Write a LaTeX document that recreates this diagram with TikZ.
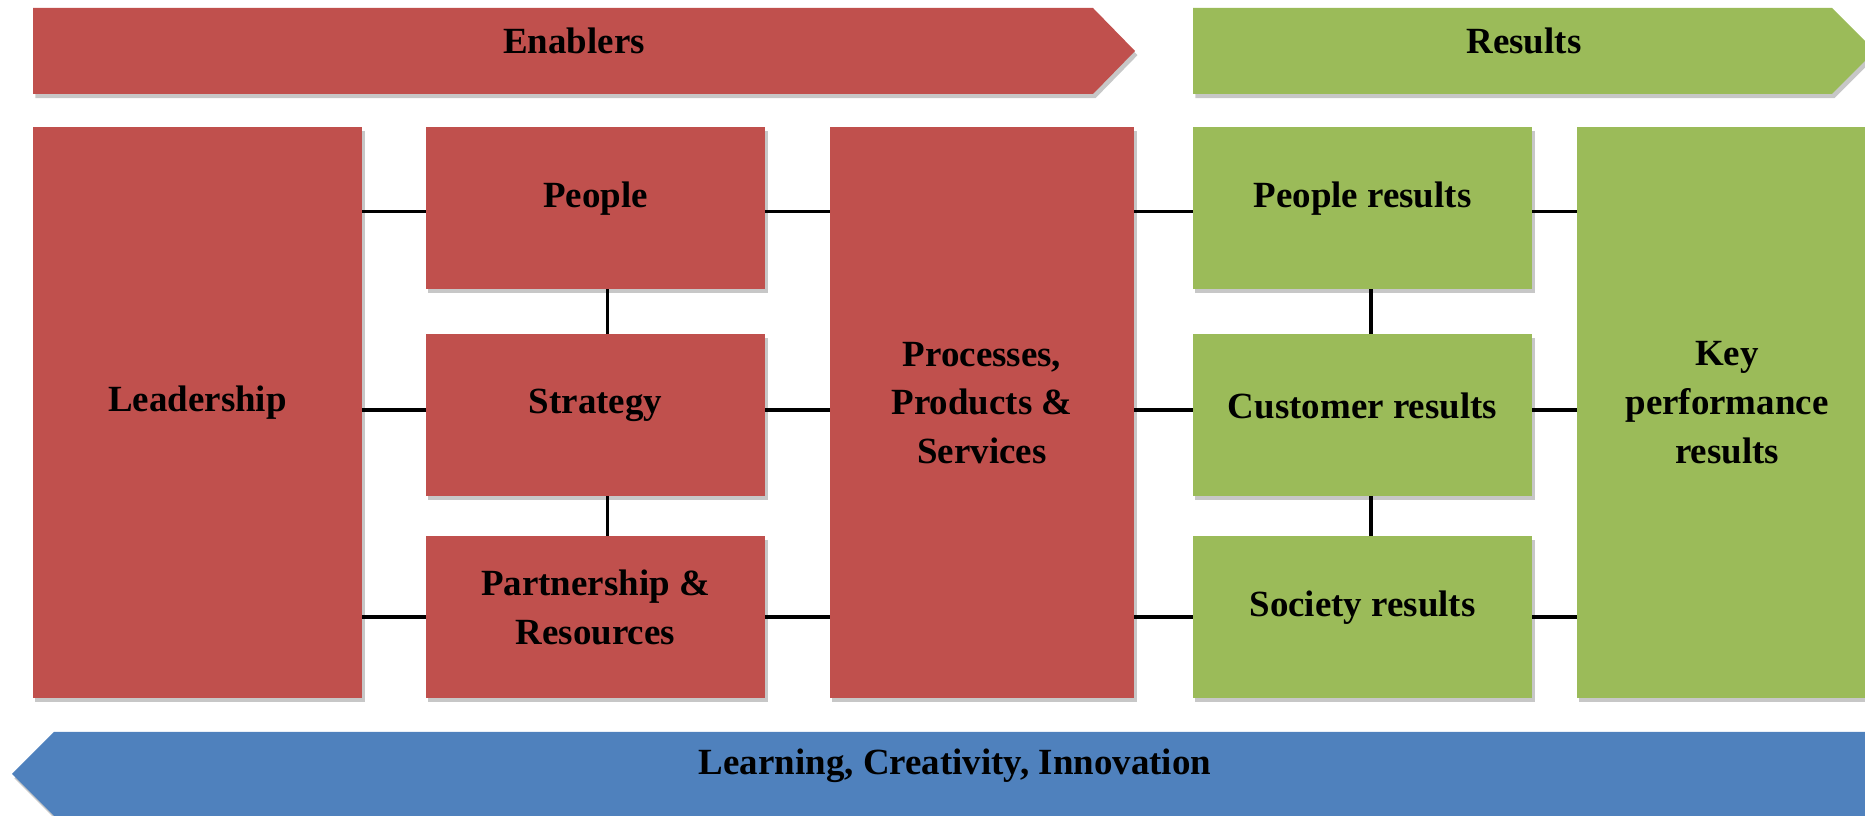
\documentclass[tikz,border=0pt]{standalone}
\usepackage{fontspec}
\setmainfont{Liberation Serif}
\usetikzlibrary{shadows}
\definecolor{enabred}{HTML}{C0504D}
\definecolor{resgreen}{HTML}{9BBB59}
\definecolor{learnblue}{HTML}{4F81BD}
\newcommand\BoxW{3.39cm}
\newcommand\BoxH{1.62cm}
\newcommand\TallH{5.71cm}

\begin{document}
\begin{tikzpicture}[x=0.01cm,y=-0.01cm,line width=1pt,
                    font=\fontsize{10.5}{13.9}\selectfont\bfseries]

  \tikzstyle{boxshadow}=[drop shadow={shadow xshift=0.7pt,shadow yshift=-1.2pt,fill=black!22,opacity=1}]
  \tikzstyle{panel}=[rectangle,inner sep=0pt,outer sep=0pt,boxshadow]
  \tikzstyle{enab}=[panel,fill=enabred]
  \tikzstyle{res}=[panel,fill=resgreen]
  \tikzstyle{txt}=[align=center,yshift=0.095cm]

  \useasboundingbox (0,0) rectangle (1865,816);
  \clip (0,0) rectangle (1865,816);

  % bars
  \fill[enabred,boxshadow] (33,8) -- (1093,8) -- (1135,51) -- (1093,94) -- (33,94) -- cycle;
  \fill[resgreen,boxshadow] (1193,8) -- (1832,8) -- (1875,51) -- (1832,94) -- (1193,94) -- cycle;
  \fill[learnblue,boxshadow] (12,774) -- (54,732) -- (1900,732) -- (1900,816) -- (54,816) -- cycle;
  \node (enabtxt) at (574,41) {Enablers};
  \node (restxt) at (1524,41) {Results};
  \node (learntxt) at (955,766) {Learning, Creativity, Innovation};

  \node[enab,minimum width=3.29cm,minimum height=\TallH,label={[txt]center:Leadership}] (lead) at (197.5,412.5) {};
  \node[enab,minimum width=\BoxW,minimum height=\BoxH,label={[txt]center:People}] (ppl) at (595.5,208) {};
  \node[enab,minimum width=\BoxW,minimum height=\BoxH,label={[txt]center:Strategy}] (strat) at (595.5,415) {};
  \node[enab,minimum width=\BoxW,minimum height=\BoxH,label={[txt]center:Partnership \&\\Resources}] (part) at (595.5,617) {};
  \node[enab,minimum width=3.04cm,minimum height=\TallH,label={[txt]center:Processes,\\Products \&\\Services}] (proc) at (982,412.5) {};

  \node[res,minimum width=\BoxW,minimum height=\BoxH,label={[txt]center:People results}] (pres) at (1362.5,208) {};
  \node[res,minimum width=\BoxW,minimum height=\BoxH,label={[txt]center:Customer results}] (cres) at (1362.5,415) {};
  \node[res,minimum width=\BoxW,minimum height=\BoxH,label={[txt]center:Society results}] (sres) at (1362.5,617) {};
  \node[res,minimum width=3.0cm,minimum height=\TallH,label={[txt]center:Key\\performance\\results}] (kpr) at (1727,412.5) {};

  \path
  ([yshift=-0.035cm]lead.east |- ppl.west) edge ([yshift=-0.035cm]ppl.west)
  ([yshift=0.05cm]lead.east |- strat.west) edge ([yshift=0.05cm]strat.west)
  (lead.east |- part.west) edge (part.west)

  ([yshift=-0.035cm]ppl.east) edge ([yshift=-0.035cm]ppl.east -| proc.west)
  ([yshift=0.05cm]strat.east) edge ([yshift=0.05cm]strat.east -| proc.west)
  (part.east) edge (part.east -| proc.west)

  ([xshift=0.12cm]ppl.south) edge ([xshift=0.12cm]strat.north)
  ([xshift=0.12cm]strat.south) edge ([xshift=0.12cm]part.north)
  ;

  \path
  ([yshift=-0.035cm]proc.east |- pres.west) edge ([yshift=-0.035cm]pres.west)
  ([yshift=0.05cm]proc.east |- cres.west) edge ([yshift=0.05cm]cres.west)
  (proc.east |- sres.west) edge (sres.west)

  ([yshift=-0.035cm]pres.east) edge ([yshift=-0.035cm]pres.east -| kpr.west)
  ([yshift=0.05cm]cres.east) edge ([yshift=0.05cm]cres.east -| kpr.west)
  (sres.east) edge (sres.east -| kpr.west)

  ([xshift=0.085cm]pres.south) edge ([xshift=0.085cm]cres.north)
  ([xshift=0.085cm]cres.south) edge ([xshift=0.085cm]sres.north)
  ;

\end{tikzpicture}
\end{document}
